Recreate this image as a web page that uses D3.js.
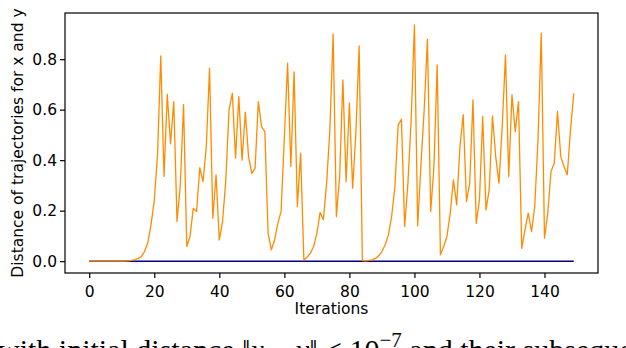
<!DOCTYPE html>
<html>
<head>
<meta charset="utf-8">
<script src="https://cdn.jsdelivr.net/npm/d3@7"></script>
<style>
  html, body { margin: 0; padding: 0; background: #fff; overflow: hidden; }
  svg { display: block; }
  .tick text { font-family: "DejaVu Sans", sans-serif; font-size: 15.5px; fill: #000; }
  .axlabel { font-family: "DejaVu Sans", sans-serif; font-size: 15.5px; fill: #000; }
  .caption { font-family: "Liberation Serif", "DejaVu Serif", serif; font-size: 30px; fill: #000; }
</style>
</head>
<body>
<svg width="626" height="348"></svg>
<script>
// distance between the two trajectories, one value per iteration (0..149)
var distance = [
  0, 0, 0, 0, 0, 0, 0, 0, 0, 0,
  0, 0, 0.001, 0.003, 0.006, 0.01, 0.018, 0.038, 0.072, 0.144,
  0.24, 0.42, 0.813, 0.335, 0.66, 0.465, 0.632, 0.157, 0.3, 0.62,
  0.058, 0.098, 0.21, 0.197, 0.37, 0.315, 0.454, 0.764, 0.17, 0.342,
  0.084, 0.157, 0.32, 0.6, 0.665, 0.408, 0.652, 0.4, 0.59, 0.414,
  0.348, 0.368, 0.632, 0.533, 0.513, 0.11, 0.045, 0.084, 0.15, 0.197,
  0.49, 0.784, 0.375, 0.75, 0.216, 0.428, 0.005, 0.016, 0.032, 0.058,
  0.11, 0.193, 0.164, 0.309, 0.52, 0.9, 0.177, 0.335, 0.718, 0.315,
  0.626, 0.289, 0.51, 0.853, 0.002, 0.001, 0.003, 0.005, 0.011, 0.021,
  0.038, 0.065, 0.104, 0.177, 0.295, 0.54, 0.562, 0.137, 0.309, 0.56,
  0.936, 0.14, 0.38, 0.6, 0.879, 0.197, 0.375, 0.777, 0.025, 0.058,
  0.098, 0.19, 0.322, 0.223, 0.454, 0.58, 0.236, 0.309, 0.639, 0.15,
  0.243, 0.573, 0.203, 0.282, 0.575, 0.414, 0.309, 0.533, 0.817, 0.335,
  0.659, 0.513, 0.632, 0.051, 0.124, 0.19, 0.117, 0.216, 0.48, 0.903,
  0.091, 0.19, 0.355, 0.388, 0.593, 0.414, 0.375, 0.342, 0.52, 0.665
];
// reference series: identical trajectories stay at zero
var baseline = distance.map(function() { return 0; });

var xTicks = [0, 20, 40, 60, 80, 100, 120, 140];
var yTicks = [0.0, 0.2, 0.4, 0.6, 0.8];

var svg = d3.select("svg");
var margin = {top: 13, right: 28, bottom: 75, left: 65};
var width = +svg.attr("width") - margin.left - margin.right;
var height = +svg.attr("height") - margin.top - margin.bottom;
var g = svg.append("g").attr("transform", "translate(" + margin.left + "," + margin.top + ")");

// matplotlib style 5% padding on both axes
var n = distance.length - 1;
var ymax = d3.max(distance);
var x = d3.scaleLinear().domain([-0.05 * n, n * 1.05]).range([0, width]);
var y = d3.scaleLinear().domain([-0.05 * ymax, ymax * 1.05]).range([height, 0]);

var line = d3.line()
  .x(function(d, i) { return x(i); })
  .y(function(d) { return y(d); });

g.append("path")
  .datum(baseline)
  .attr("fill", "none")
  .attr("stroke", "#000080")
  .attr("stroke-width", 1.5)
  .attr("d", line);

g.append("path")
  .datum(distance)
  .attr("fill", "none")
  .attr("stroke", "#ff8c00")
  .attr("stroke-width", 1.3)
  .attr("stroke-linejoin", "round")
  .attr("d", line);

var xAxis = g.append("g")
  .attr("transform", "translate(0," + height + ")")
  .call(d3.axisBottom(x).tickValues(xTicks).tickSize(5).tickPadding(4));
var yAxis = g.append("g")
  .call(d3.axisLeft(y).tickValues(yTicks).tickFormat(d3.format(".1f")).tickSize(5).tickPadding(3));

[xAxis, yAxis].forEach(function(a) {
  a.select(".domain").remove();
  a.selectAll(".tick line").attr("stroke", "#000").attr("stroke-width", 1.2);
});
xAxis.selectAll(".tick text").attr("dy", "0.95em");

// frame
g.append("rect")
  .attr("width", width).attr("height", height)
  .attr("fill", "none").attr("stroke", "#000").attr("stroke-width", 1.2);

g.append("text")
  .attr("class", "axlabel")
  .attr("x", width / 2).attr("y", height + 41)
  .attr("text-anchor", "middle")
  .text("Iterations");

g.append("text")
  .attr("class", "axlabel")
  .attr("transform", "translate(-42," + (height / 2) + ") rotate(-90)")
  .attr("text-anchor", "middle")
  .text("Distance of trajectories for x and y");

// figure caption, clipped by the bottom of the picture
var cap = svg.append("text").attr("class", "caption").attr("x", -2).attr("y", 360);
cap.append("tspan").text("with initial distance \u2016");
cap.append("tspan").attr("font-style", "italic").text("x");
cap.append("tspan").text(" \u2212 ");
cap.append("tspan").attr("font-style", "italic").text("y");
cap.append("tspan").text("\u2016 < 10");
cap.append("tspan").attr("dy", -13).attr("font-size", 21).text("\u22127");
cap.append("tspan").attr("dy", 13).text(" and their subsequent");
</script>
</body>
</html>
